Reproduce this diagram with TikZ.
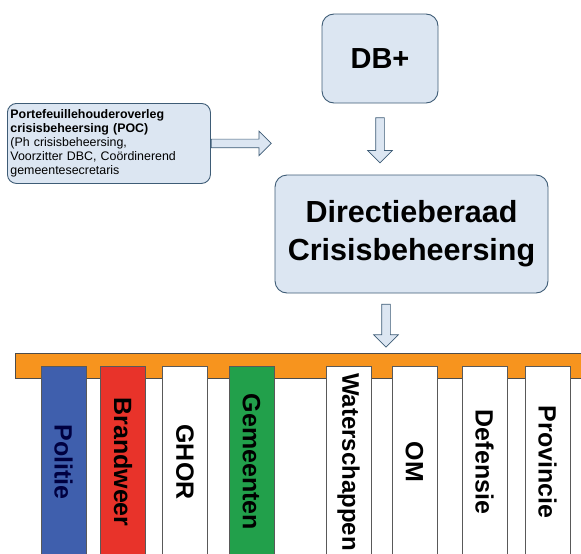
\documentclass[tikz,border=0pt]{standalone}
\usepackage{fontspec}
\setmainfont{Liberation Sans}
\usepackage{xcolor}
\usetikzlibrary{positioning, shapes.arrows}

\definecolor{boxfill}{HTML}{DCE6F2}
\definecolor{boxline}{HTML}{3E5C76}
\definecolor{barorange}{HTML}{F7941E}
\definecolor{colblue}{HTML}{3F5FAD}
\definecolor{colred}{HTML}{E8332A}
\definecolor{colgreen}{HTML}{22A04B}

\begin{document}
\begin{tikzpicture}[
    x=1pt, y=-1pt,
    box/.style={rectangle, draw=boxline, fill=boxfill, line width=0.9pt, rounded corners=12pt, align=center},
    bigarr/.style={single arrow, draw=boxline, fill=boxfill, line width=0.7pt, inner sep=4pt, single arrow head extend=8pt, single arrow tip angle=90},
    col/.style={rectangle, draw=black!65, fill=#1, line width=0.6pt, rotate=-90, minimum width=192pt, minimum height=45pt, inner sep=0pt, font=\bfseries\fontsize{25}{25}\selectfont},
    col/.default=white,
]
    \useasboundingbox (0,0) rectangle (581,554);

    \node[box, minimum width=116pt, minimum height=89pt, font=\bfseries\fontsize{29}{29}\selectfont] (db) at (380,58.5) {DB+};
    \node[bigarr, shape border rotate=270, minimum height=45pt, below=14pt of db] (arr1) {};
    \node[box, minimum width=273pt, minimum height=118pt, font=\bfseries\fontsize{30.5}{38}\selectfont] (dbc) at (411.5,234) {Directieberaad\\Crisisbeheersing};

    % POC on the left
    \node[box, anchor=north west, rounded corners=9pt, align=left, text width=197pt, minimum height=80pt, inner sep=3pt, font=\fontsize{12.4}{14}\selectfont] (poc) at (7,103) {\textbf{Portefeuillehouderoverleg}\\\textbf{crisisbeheersing (POC)}\\(Ph crisisbeheersing,\\Voorzitter DBC, Coördinerend\\gemeentesecretaris};
    \node[bigarr, minimum height=60pt, right=0pt of poc] (arr3) {};

    \node[bigarr, shape border rotate=270, minimum height=43pt] (arr2) at (386,323.5) {};

    % bar with the partners
    \node[rectangle, draw=black!70, fill=barorange, line width=0.8pt, anchor=north west, minimum width=580pt, minimum height=25pt] (bar) at (15,353) {};

    \node[col=colblue, text=blue!25!black] (politie) at (63.5,462) {Politie};
    \node[col=colred] (brandweer) at (123,462) {Brandweer};
    \node[col] (ghor) at (185,462) {GHOR};
    \node[col=colgreen] (gemeenten) at (251.5,462) {Gemeenten};
    \node[col, font=\bfseries\fontsize{24}{24}\selectfont] (waterschappen) at (348.5,462) {Waterschappen};
    \node[col] (om) at (414.5,462) {OM};
    \node[col] (defensie) at (484.5,462) {Defensie};
    \node[col] (provincie) at (547.5,462) {Provincie};
\end{tikzpicture}
\end{document}
